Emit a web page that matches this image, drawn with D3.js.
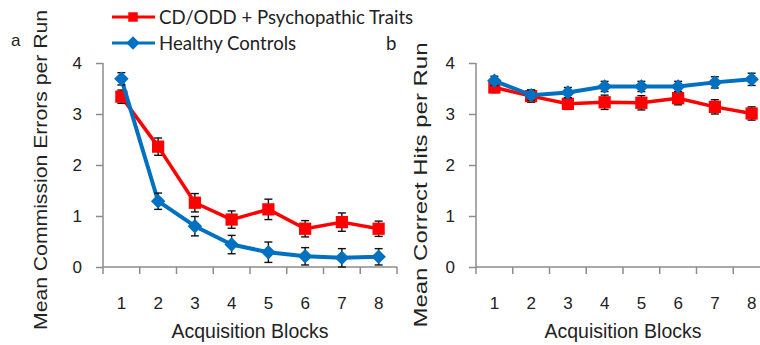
<!DOCTYPE html>
<html>
<head>
<meta charset="utf-8">
<script src="https://cdn.jsdelivr.net/npm/d3@7"></script>
<style>
  body { margin: 0; background: #fff; }
  svg { display: block; }
</style>
</head>
<body>
<script>
// blocks on the x axis
var blocks = [1, 2, 3, 4, 5, 6, 7, 8];
var yTicks = [0, 1, 2, 3, 4];

// panel a: commission errors
var errCD = [3.34, 2.36, 1.26, 0.93, 1.13, 0.75, 0.88, 0.75];
var errCDse = [0.13, 0.17, 0.18, 0.17, 0.2, 0.16, 0.18, 0.15];
var errHC = [3.69, 1.29, 0.8, 0.44, 0.29, 0.21, 0.18, 0.2];
var errHCse = [0.12, 0.16, 0.19, 0.18, 0.2, 0.17, 0.18, 0.16];

// panel b: correct hits
var hitCD = [3.52, 3.35, 3.2, 3.23, 3.22, 3.31, 3.14, 3.01];
var hitCDse = [0.1, 0.12, 0.11, 0.14, 0.14, 0.13, 0.14, 0.13];
var hitHC = [3.65, 3.37, 3.42, 3.54, 3.54, 3.54, 3.62, 3.68];
var hitHCse = [0.09, 0.1, 0.1, 0.1, 0.1, 0.1, 0.11, 0.12];

var red = "#ff0000", blue = "#0070c0", axisCol = "#8c8c8c";
var arial = "'Liberation Sans', Arial, sans-serif";

var svg = d3.select("body").append("svg")
  .attr("width", 760)
  .attr("height", 345);

function panel(x0, title, titleX, titleY, titleLen, cd, cdSe, hc, hcSe) {
  var x = d3.scaleBand().domain(blocks).range([x0, x0 + 8 * 36.75]);
  var y = d3.scaleLinear().domain([0, 4]).range([267, 63]);
  var g = svg.append("g");

  // y axis
  var ya = g.append("g")
    .attr("transform", "translate(" + x0 + ",0)")
    .call(d3.axisLeft(y).tickValues(yTicks).tickSize(7).tickPadding(14).tickFormat(d3.format("d")));
  // x axis, labels in the middle of each block, ticks at the block edges
  var xa = g.append("g")
    .attr("transform", "translate(0,267)")
    .call(d3.axisBottom(x).tickSize(0).tickPadding(30));
  g.selectAll(".edge").data(d3.range(9)).enter().append("line")
    .attr("x1", function(i) { return x0 + i * x.step(); })
    .attr("x2", function(i) { return x0 + i * x.step(); })
    .attr("y1", 267).attr("y2", 274)
    .attr("stroke", axisCol).attr("stroke-width", 1.5);

  [ya, xa].forEach(function(a) {
    a.select(".domain").attr("stroke", axisCol).attr("stroke-width", 1.5);
    a.selectAll(".tick line").attr("stroke", axisCol).attr("stroke-width", 1.5);
    a.selectAll("text").attr("fill", "#222").style("font-family", arial).style("font-size", "17px");
  });
  xa.select(".domain").attr("d", "M" + x0 + ",0H" + (x0 + 8 * x.step()));
  ya.select(".domain").attr("d", "M0," + y(4) + "V267");

  var cx = function(i) { return x(blocks[i]) + x.bandwidth() / 2; };

  function series(vals, se, col, lw, diamond, size) {
    var line = d3.line().x(function(d, i) { return cx(i); }).y(function(d) { return y(d); });
    g.append("path").datum(vals).attr("d", line)
      .attr("fill", "none").attr("stroke", col).attr("stroke-width", lw).attr("stroke-linejoin", "round");
    var eb = g.append("g").attr("stroke", "#111").attr("stroke-width", 1.4);
    vals.forEach(function(v, i) {
      eb.append("line").attr("x1", cx(i)).attr("x2", cx(i)).attr("y1", y(v - se[i])).attr("y2", y(v + se[i]));
      [v - se[i], v + se[i]].forEach(function(e) {
        eb.append("line").attr("x1", cx(i) - 4).attr("x2", cx(i) + 4).attr("y1", y(e)).attr("y2", y(e));
      });
    });
    g.selectAll(null).data(vals).enter().append("path")
      .attr("d", d3.symbol().type(d3.symbolSquare).size(size))
      .attr("transform", function(d, i) { return "translate(" + cx(i) + "," + y(d) + ")" + (diamond ? " rotate(45)" : ""); })
      .attr("fill", col);
  }
  series(cd, cdSe, red, 3.5, false, 150);
  series(hc, hcSe, blue, 4, true, 105);

  g.append("text")
    .attr("transform", "translate(" + titleX + "," + titleY + ") rotate(-90)")
    .attr("text-anchor", "middle").attr("dy", "0.35em")
    .attr("textLength", titleLen).attr("lengthAdjust", "spacingAndGlyphs")
    .style("font-family", arial).style("font-size", "18px")
    .attr("fill", "#222").text(title);

  g.append("text")
    .attr("x", x0 + 4 * x.step()).attr("y", 338)
    .attr("text-anchor", "middle")
    .attr("textLength", 157).attr("lengthAdjust", "spacingAndGlyphs")
    .style("font-family", arial).style("font-size", "20px")
    .attr("fill", "#222").text("Acquisition Blocks");
}

panel(103, "Mean Commission Errors per Run", 41, 170, 320, errCD, errCDse, errHC, errHCse);
panel(476, "Mean Correct Hits per Run", 421, 185, 285, hitCD, hitCDse, hitHC, hitHCse);

// legend
var legend = [
  { name: "CD/ODD + Psychopathic Traits", col: red, diamond: false, y: 17 },
  { name: "Healthy Controls", col: blue, diamond: true, y: 43 }
];
var lg = svg.selectAll(".lg").data(legend).enter().append("g");
lg.append("line").attr("x1", 112).attr("x2", 155)
  .attr("y1", function(d) { return d.y; }).attr("y2", function(d) { return d.y; })
  .attr("stroke", function(d) { return d.col; }).attr("stroke-width", 3);
lg.append("path")
  .attr("d", d3.symbol().type(d3.symbolSquare).size(90))
  .attr("transform", function(d) { return "translate(133," + d.y + ")" + (d.diamond ? " rotate(45)" : ""); })
  .attr("fill", function(d) { return d.col; });
lg.append("text").attr("x", 159).attr("y", function(d) { return d.y + 7; })
  .style("font-family", "Lato, sans-serif").style("font-size", "18.6px")
  .attr("fill", "#222").text(function(d) { return d.name; });

svg.append("text").attr("x", 11).attr("y", 46)
  .style("font-family", arial).style("font-size", "17px")
  .attr("fill", "#222").text("a");
svg.append("text").attr("x", 386).attr("y", 50)
  .style("font-family", "Lato, sans-serif").style("font-size", "18.6px")
  .attr("fill", "#222").text("b");
</script>
</body>
</html>
